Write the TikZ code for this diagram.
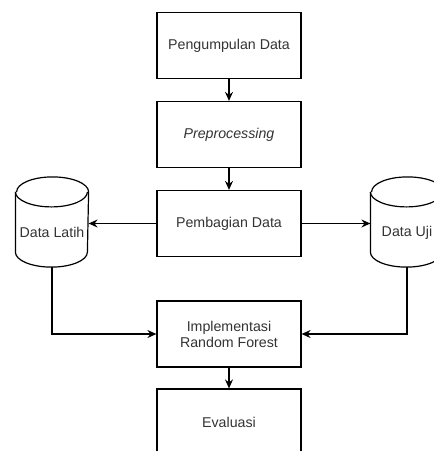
\documentclass[tikz,border=0pt]{standalone}
\usepackage{fontspec}
\setmainfont{Liberation Sans}
\usetikzlibrary{arrows.meta}

\begin{document}
\begin{tikzpicture}[x=1pt,y=-1pt,line width=1.2pt,
        font=\fontsize{14.2}{16}\selectfont,
        box/.style={rectangle, draw, fill=white, text=black!80,
                        minimum width=144pt, minimum height=66pt, align=center},
        db/.style={inner sep=0pt, minimum width=72pt, minimum height=89pt},
        arr/.style={-{Stealth[length=9pt,width=8pt,inset=3pt]}}]
    \useasboundingbox (0,0) rectangle (434,451);
    \clip (0,0) rectangle (434,451);

    \node[box] (kumpul) at (229,45.5) {Pengumpulan Data};
    \node[box] (prepro) at (229,134.5) {\textit{Preprocessing}};
    \node[box] (bagi) at (229,223.5) {Pembagian Data};
    \node[box] (rf) at (229,334) {Implementasi\\Random Forest};
    \node[box] (eval) at (229,422) {Evaluasi};

    % tabung data
    \node[db] (latih) at (52,222) {};
    \node[db] (uji) at (407,222) {};
    \foreach \c/\t in {latih/Data Latih, uji/Data Uji} {
        \draw[fill=white]
            ([yshift=-15pt]\c.north west) -- ([yshift=15pt]\c.south west)
            arc[start angle=180, end angle=360, x radius=36pt, y radius=15pt]
            -- ([yshift=-15pt]\c.north east)
            arc[start angle=0, end angle=180, x radius=36pt, y radius=15pt];
        \draw ([yshift=-15pt]\c.north west)
            arc[start angle=180, end angle=360, x radius=36pt, y radius=15pt];
        \node[text=black!80] (\c-txt) at ([yshift=-10.5pt]\c.center) {\t};
    }

    \draw[arr] (kumpul) -- (prepro);
    \draw[arr] (prepro) -- (bagi);
    \draw[arr] (bagi.west) -- (latih.east |- bagi.west);
    \draw[arr] (bagi.east) -- (uji.west |- bagi.east);
    \draw[arr] (latih.south) |- (rf.west);
    \draw[arr] (uji.south) |- (rf.east);
    \draw[arr] (rf) -- (eval);
\end{tikzpicture}
\end{document}
